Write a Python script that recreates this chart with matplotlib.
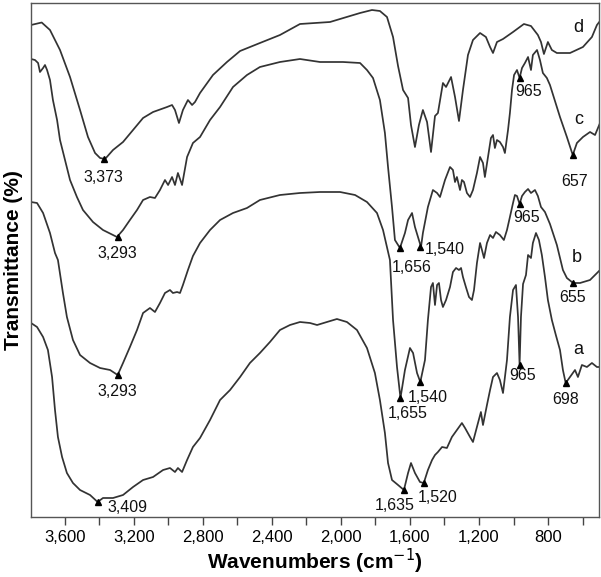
import matplotlib
matplotlib.use("Agg")
import matplotlib.pyplot as plt
from matplotlib.ticker import MultipleLocator, FuncFormatter

plt.rcParams['font.family'] = ['Liberation Sans', 'DejaVu Sans']

# spectra: wavenumber (cm-1) and transmittance (arbitrary %)
wn_d = [3795, 3733, 3685, 3627, 3569, 3511, 3465, 3424, 3395, 3366, 3320, 3262, 3204, 3146,
        3088, 3007, 2978, 2961, 2938, 2915, 2886, 2862, 2845, 2816, 2741, 2660, 2584, 2469,
        2353, 2237, 2063, 1889, 1820, 1774, 1733, 1698, 1669, 1640, 1611, 1594, 1571, 1548,
        1525, 1501, 1478, 1455, 1438, 1409, 1391, 1362, 1339, 1316, 1293, 1264, 1235, 1194,
        1160, 1136, 1119, 1096, 1061, 1003, 940, 899, 859, 841, 824, 801, 778, 749, 673, 598,
        546, 517, 499]
t_d = [98.4, 98.9, 97.4, 93.4, 88.0, 81.4, 76.0, 72.8, 71.8, 71.6, 73.4, 75.0, 77.4, 79.8,
       81.0, 82.0, 82.4, 81.4, 78.8, 81.4, 83.4, 82.4, 83.0, 84.8, 88.4, 91.0, 93.2, 94.8,
       96.4, 98.6, 99.0, 100.8, 101.4, 101.2, 100.0, 96.0, 90.2, 85.4, 83.8, 78.4, 74.0, 78.4,
       81.4, 79.0, 73.0, 80.2, 80.8, 86.8, 86.0, 88.0, 84.0, 79.2, 85.4, 92.4, 95.4, 96.8,
       96.0, 94.0, 92.8, 95.0, 95.6, 97.0, 98.6, 98.2, 96.4, 95.0, 92.6, 95.0, 93.4, 92.8, 92.8, 94.0,
       96.0, 98.4, 99.2]

wn_c = [3795, 3772, 3754, 3743, 3725, 3714, 3702, 3685, 3668, 3644, 3627, 3598, 3569, 3529,
        3494, 3436, 3378, 3320, 3297, 3262, 3222, 3181, 3146, 3106, 3077, 3048, 3019, 3001,
        2978, 2961, 2944, 2920, 2891, 2857, 2816, 2758, 2700, 2625, 2544, 2469, 2353, 2237,
        2121, 1988, 1889, 1849, 1814, 1774, 1745, 1727, 1704, 1687, 1658, 1629, 1611, 1588,
        1571, 1536, 1525, 1496, 1467, 1443, 1426, 1397, 1368, 1351, 1339, 1328, 1310, 1299,
        1287, 1270, 1252, 1235, 1212, 1194, 1177, 1166, 1148, 1131, 1119, 1108, 1096, 1079,
        1061, 1050, 1032, 1021, 1009, 997, 980, 965, 951, 934, 916, 899, 888, 864, 847, 830,
        807, 789, 731, 691, 657, 633, 598, 557, 528, 499]
t_c = [91.6, 91.4, 90.8, 89.0, 89.8, 90.4, 89.4, 87.4, 83.4, 79.4, 75.4, 71.4, 67.4, 64.0,
       61.4, 59.0, 57.4, 56.4, 56.0, 57.4, 59.4, 61.4, 63.4, 64.0, 63.8, 65.4, 67.4, 66.4,
       68.0, 66.4, 68.8, 66.4, 72.0, 74.8, 76.0, 79.4, 82.0, 86.0, 88.4, 90.0, 91.0, 91.6,
       91.0, 91.0, 90.8, 89.4, 87.8, 83.4, 76.8, 70.0, 62.0, 55.4, 53.8, 56.8, 59.4, 60.8,
       58.0, 54.0, 56.8, 62.0, 65.4, 64.8, 64.0, 67.4, 70.0, 69.4, 67.0, 68.0, 65.4, 67.4,
       67.0, 64.8, 64.0, 65.4, 68.8, 72.0, 70.8, 68.0, 72.0, 75.8, 76.4, 73.8, 75.4, 75.0,
       74.0, 72.8, 77.4, 80.8, 85.4, 88.4, 89.4, 87.8, 89.8, 90.8, 92.0, 89.4, 92.4, 93.4, 91.4, 88.8,
       87.8, 86.4, 80.0, 76.0, 72.4, 74.8, 76.0, 77.0, 76.4, 78.8]

wn_b = [3795, 3760, 3725, 3685, 3656, 3639, 3610, 3587, 3552, 3511, 3453, 3395, 3337, 3293,
        3262, 3222, 3181, 3146, 3106, 3077, 3048, 3019, 2990, 2973, 2949, 2932, 2915, 2886,
        2857, 2816, 2758, 2700, 2625, 2544, 2469, 2353, 2237, 2121, 2005, 1918, 1849, 1791,
        1756, 1716, 1698, 1675, 1655, 1629, 1600, 1582, 1559, 1540, 1513, 1496, 1478, 1467,
        1455, 1443, 1432, 1420, 1409, 1391, 1368, 1351, 1333, 1316, 1304, 1293, 1276, 1258,
        1241, 1229, 1212, 1194, 1183, 1171, 1154, 1136, 1119, 1102, 1079, 1056, 1038, 1021,
        1003, 992, 980, 965, 951, 934, 916, 899, 876, 859, 841, 818, 789, 749, 714, 691, 655,
        615, 557, 499]
t_b = [63.0, 62.8, 60.8, 56.8, 52.8, 51.4, 44.8, 40.0, 35.4, 32.4, 30.8, 29.8, 29.4, 28.4,
       30.8, 34.0, 37.4, 40.8, 41.8, 41.0, 42.8, 44.8, 45.4, 44.8, 45.0, 44.8, 46.4, 49.4,
       52.2, 54.8, 57.4, 59.4, 60.8, 61.8, 63.4, 64.4, 64.8, 65.0, 65.0, 64.4, 63.0, 60.8,
       57.4, 51.4, 39.4, 30.0, 23.8, 29.4, 33.8, 32.8, 28.8, 27.0, 31.4, 39.4, 46.0, 46.8,
       42.4, 46.4, 46.8, 43.4, 42.0, 43.4, 46.0, 49.0, 49.8, 49.4, 49.8, 48.0, 46.0, 44.0,
       43.4, 45.4, 50.8, 54.8, 53.4, 51.8, 54.8, 56.4, 55.8, 57.0, 56.4, 55.4, 57.4, 60.0,
       62.8, 64.4, 64.2, 62.6, 64.2, 65.0, 65.6, 64.8, 65.4, 64.2, 62.0, 61.0, 58.6, 54.4, 49.4, 47.8, 46.8,
       46.8, 47.4, 49.4]

wn_a = [3795, 3760, 3725, 3697, 3673, 3656, 3639, 3615, 3587, 3552, 3511, 3453, 3409, 3378,
        3320, 3262, 3204, 3146, 3088, 3030, 2990, 2961, 2944, 2920, 2891, 2857, 2816, 2758,
        2700, 2642, 2584, 2527, 2469, 2411, 2353, 2295, 2237, 2179, 2138, 2081, 2023, 1965,
        1907, 1849, 1803, 1774, 1745, 1727, 1704, 1669, 1635, 1611, 1594, 1571, 1542, 1520,
        1496, 1472, 1455, 1438, 1414, 1386, 1357, 1328, 1299, 1281, 1252, 1235, 1206, 1189,
        1177, 1154, 1136, 1119, 1096, 1079, 1061, 1038, 1021, 1003, 986, 974, 965, 957, 945,
        928, 916, 899, 888, 870, 853, 836, 818, 801, 778, 755, 731, 714, 698, 673, 644, 627,
        604, 575, 546, 517, 499]
t_a = [38.8, 38.0, 36.0, 33.4, 28.0, 21.4, 16.0, 12.0, 8.8, 6.8, 5.4, 4.4, 3.0, 3.8,
       3.8, 4.4, 6.0, 7.4, 8.0, 9.4, 9.8, 9.0, 9.8, 9.0, 11.4, 14.0, 15.8, 19.4,
       23.4, 25.4, 28.0, 30.8, 32.8, 35.0, 37.4, 38.4, 39.0, 38.8, 38.4, 39.0, 39.6, 39.0,
       37.4, 33.8, 28.8, 23.4, 16.8, 10.8, 7.4, 6.4, 5.4, 8.8, 10.8, 8.8, 7.0, 6.8,
       9.4, 11.4, 12.4, 13.0, 14.0, 13.8, 16.0, 17.4, 18.8, 17.8, 16.0, 15.0, 18.8, 21.0,
       18.4, 22.4, 25.4, 28.0, 28.8, 27.4, 24.8, 31.4, 40.0, 45.4, 46.4, 40.0, 30.4, 40.0, 46.6,
       48.4, 52.4, 51.8, 54.8, 56.8, 55.4, 52.4, 48.0, 43.4, 39.4, 36.4, 33.4, 29.4, 26.8, 28.0, 29.4, 28.0,
       30.4, 30.0, 30.8, 30.0, 30.0]

# labelled peaks: wavenumber, transmittance, text
peak_wn = [3373, 3293, 3293, 3409, 1656, 1540, 1655, 1540, 1635, 1520, 965, 965, 965, 657, 655, 698]
peak_t = [71.6, 56.0, 28.4, 3.0, 53.8, 54.0, 23.8, 27.0, 5.4, 6.8, 87.8, 62.6, 30.4, 72.4, 46.8, 26.8]
peak_txt = ["3,373", "3,293", "3,293", "3,409", "1,656", "1,540", "1,655", "1,540",
            "1,635", "1,520", "965", "965", "965", "657", "655", "698"]
# where each label sits relative to its marker (pixels)
peak_off = [(0, -19), (0, -16), (0, -16), (30, -5), (11, -20), (24, -3), (7, -15), (7, -15),
            (-9, -15), (14, -14), (9, -14), (7, -13), (3, -11), (2, -27), (-1, -14), (0, -17)]

curve_names = ["d", "c", "b", "a"]
name_wn = [627, 621, 633, 627]
name_t = [97.8, 79.4, 51.8, 33.4]

fig = plt.figure(figsize=(6.01, 5.77), dpi=100)
ax = fig.add_axes([31/601, 60/577, 568/601, 514/577])

for wn, t in [(wn_d, t_d), (wn_c, t_c), (wn_b, t_b), (wn_a, t_a)]:
    ax.plot(wn, t, color='#333333', lw=1.25, solid_joinstyle='round')

ax.plot(peak_wn, peak_t, '^', color='black', ms=4, ls='none')
for w, t, s, off in zip(peak_wn, peak_t, peak_txt, peak_off):
    ax.annotate(s, (w, t), xytext=off, textcoords='offset pixels',
                ha='center', va='center', fontsize=11.5, color='#111111')

for n, w, t in zip(curve_names, name_wn, name_t):
    ax.text(w, t, n, ha='center', va='center', fontsize=13, color='#111111')

ax.set_xlim(3795, 505)
ax.set_ylim(0, 102.8)
ax.xaxis.set_major_locator(MultipleLocator(400))
ax.xaxis.set_minor_locator(MultipleLocator(200))
ax.xaxis.set_major_formatter(FuncFormatter(lambda v, p: f"{int(v):,}"))
ax.tick_params(axis='x', which='both', direction='out', length=6, width=1, color='#444444')
ax.tick_params(axis='x', which='major', labelsize=12, pad=3)
ax.set_yticks([])
for sp in ax.spines.values():
    sp.set_color('#555555')
    sp.set_linewidth(1.0)

ax.set_xlabel("Wavenumbers (cm$^{-1}$)", fontsize=15, fontweight='bold', labelpad=2)
ax.set_ylabel("Transmittance (%)", fontsize=15, fontweight='bold', labelpad=6)

fig.savefig("out.png", dpi=100)
